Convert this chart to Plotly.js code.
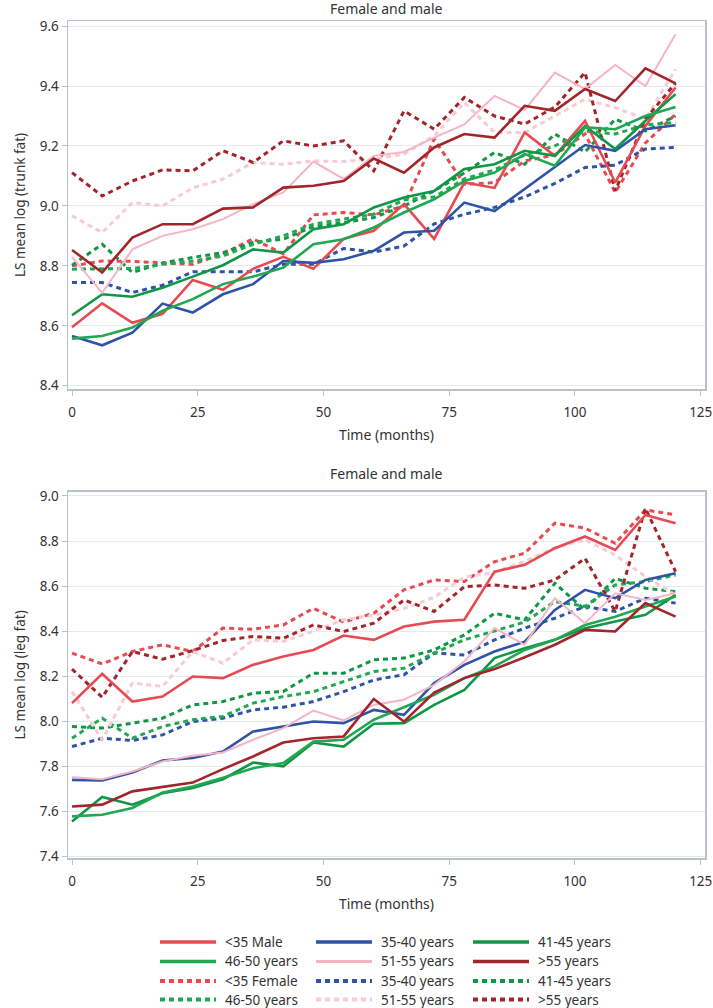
<!DOCTYPE html>
<html>
<head>
<meta charset="utf-8">
<script src="https://cdn.plot.ly/plotly-3.0.1.min.js"></script>
<style>
html,body{margin:0;padding:0;background:#ffffff;}
#chart{width:713px;height:1008px;}
</style>
</head>
<body>
<div id="chart"></div>
<script>
// ---------- DATA ----------
const months = [0,6,12,18,24,30,36,42,48,54,60,66,72,78,84,90,96,102,108,114,120];

const legendLabels = ['<35 Male','35-40 years','41-45 years','46-50 years','51-55 years','>55 years',
                      '<35 Female','35-40 years','41-45 years','46-50 years','51-55 years','>55 years'];

const panelTitles = ['Female and male','Female and male'];
const yTitles = ['LS mean log (trunk fat)','LS mean log (leg fat)'];
const xTitle = 'Time (months)';
const xTicks = [0,25,50,75,100,125];
const yTicksTrunk = [8.4,8.6,8.8,9.0,9.2,9.4,9.6];
const yTicksLeg = [7.4,7.6,7.8,8.0,8.2,8.4,8.6,8.8,9.0];

// Trunk fat – male (solid)
const trunkMale_lt35  = [8.595,8.675,8.61,8.64,8.753,8.72,8.79,8.83,8.79,8.89,8.917,9.006,8.89,9.078,9.06,9.245,9.167,9.284,9.078,9.267,9.395];
const trunkMale_35_40 = [8.566,8.535,8.577,8.674,8.644,8.705,8.739,8.816,8.81,8.822,8.85,8.911,8.917,9.011,8.983,9.056,9.128,9.203,9.184,9.256,9.269];
const trunkMale_41_45 = [8.635,8.705,8.697,8.727,8.764,8.802,8.855,8.844,8.922,8.939,8.995,9.028,9.05,9.123,9.139,9.184,9.167,9.267,9.19,9.284,9.373];
const trunkMale_46_50 = [8.557,8.566,8.594,8.65,8.689,8.739,8.764,8.794,8.872,8.889,8.928,8.978,9.022,9.083,9.111,9.173,9.134,9.262,9.256,9.3,9.33];
const trunkMale_51_55 = [8.83,8.71,8.855,8.9,8.922,8.956,9.006,9.045,9.148,9.09,9.167,9.18,9.228,9.272,9.367,9.32,9.445,9.39,9.47,9.40,9.573];
const trunkMale_gt55  = [8.853,8.778,8.894,8.939,8.939,8.991,8.995,9.061,9.067,9.083,9.158,9.111,9.195,9.24,9.228,9.334,9.317,9.39,9.35,9.459,9.409];
// Trunk fat – female (dashed)
const trunkFem_lt35  = [8.80,8.816,8.815,8.81,8.805,8.84,8.89,8.84,8.97,8.978,8.97,9.0,9.223,9.072,9.078,9.15,9.17,9.24,9.045,9.21,9.306];
const trunkFem_35_40 = [8.744,8.744,8.711,8.735,8.78,8.78,8.78,8.805,8.805,8.858,8.846,8.866,8.94,8.972,8.995,9.03,9.075,9.128,9.136,9.19,9.195];
const trunkFem_41_45 = [8.802,8.872,8.778,8.809,8.828,8.844,8.878,8.889,8.931,8.944,8.961,9.0,9.05,9.11,9.178,9.139,9.24,9.18,9.289,9.25,9.30];
const trunkFem_46_50 = [8.789,8.789,8.791,8.805,8.816,8.833,8.872,8.9,8.939,8.956,8.972,9.02,9.03,9.09,9.12,9.17,9.20,9.25,9.24,9.27,9.278];
const trunkFem_51_55 = [8.967,8.911,9.011,9.0,9.06,9.089,9.145,9.139,9.15,9.148,9.156,9.173,9.234,9.345,9.245,9.245,9.30,9.356,9.328,9.29,9.456];
const trunkFem_gt55  = [9.111,9.033,9.083,9.12,9.117,9.184,9.145,9.217,9.2,9.217,9.117,9.317,9.256,9.362,9.30,9.273,9.33,9.445,9.05,9.29,9.41];

// Leg fat – male (solid)
const legMale_lt35  = [8.08,8.21,8.087,8.109,8.198,8.191,8.25,8.287,8.316,8.38,8.361,8.42,8.442,8.45,8.664,8.694,8.768,8.82,8.76,8.916,8.879];
const legMale_35_40 = [7.739,7.736,7.772,7.825,7.836,7.865,7.954,7.976,7.998,7.991,8.05,8.028,8.169,8.25,8.309,8.353,8.494,8.583,8.546,8.627,8.657];
const legMale_41_45 = [7.554,7.663,7.629,7.68,7.703,7.742,7.816,7.799,7.905,7.887,7.988,7.991,8.072,8.139,8.28,8.324,8.361,8.413,8.442,8.472,8.561];
const legMale_46_50 = [7.577,7.584,7.614,7.683,7.71,7.748,7.791,7.814,7.909,7.917,8.006,8.062,8.117,8.191,8.243,8.316,8.361,8.427,8.464,8.509,8.553];
const legMale_51_55 = [7.751,7.742,7.776,7.821,7.846,7.861,7.917,7.969,8.047,8.003,8.072,8.095,8.161,8.265,8.413,8.339,8.546,8.435,8.568,8.538,8.568];
const legMale_gt55  = [7.621,7.629,7.688,7.707,7.727,7.787,7.843,7.905,7.924,7.932,8.098,7.998,8.127,8.191,8.231,8.284,8.339,8.405,8.398,8.524,8.464];
// Leg fat – female (dashed)
const legFem_lt35  = [8.302,8.254,8.309,8.339,8.309,8.413,8.408,8.427,8.501,8.44,8.479,8.583,8.627,8.62,8.708,8.746,8.879,8.857,8.79,8.938,8.916];
const legFem_35_40 = [7.887,7.924,7.914,7.939,7.998,8.013,8.05,8.062,8.087,8.131,8.183,8.206,8.302,8.294,8.361,8.413,8.457,8.509,8.487,8.546,8.524];
const legFem_41_45 = [7.976,7.969,7.991,8.013,8.072,8.087,8.124,8.131,8.213,8.213,8.272,8.28,8.316,8.383,8.479,8.45,8.612,8.494,8.634,8.59,8.575];
const legFem_46_50 = [7.924,8.013,7.924,7.976,8.006,8.021,8.08,8.109,8.131,8.176,8.22,8.235,8.302,8.361,8.40,8.44,8.531,8.51,8.605,8.62,8.649];
const legFem_51_55 = [8.131,7.917,8.169,8.154,8.309,8.257,8.361,8.353,8.40,8.45,8.47,8.50,8.55,8.64,8.66,8.71,8.77,8.805,8.738,8.642,8.56];
const legFem_gt55  = [8.231,8.106,8.309,8.275,8.313,8.358,8.376,8.368,8.427,8.398,8.435,8.538,8.487,8.597,8.605,8.59,8.627,8.723,8.487,8.945,8.664];

// ---------- STYLE ----------
const colors = ['#e84a52','#2f53a6','#109646','#22a753','#f5b5c5','#a3252c'];
const dashColors = ['#e84a52','#2f53a6','#109646','#22a753','#f8cad5','#a3252c'];
const solidWidths = [2.6,2.6,2.6,2.6,2.0,2.6];
const FONT = 'Noto Sans, Open Sans, sans-serif';
const TXT = '#333333';
const FS = 13.5, FS_T = 14;

const trunkSeries = [trunkMale_lt35,trunkMale_35_40,trunkMale_41_45,trunkMale_46_50,trunkMale_51_55,trunkMale_gt55,
                     trunkFem_lt35,trunkFem_35_40,trunkFem_41_45,trunkFem_46_50,trunkFem_51_55,trunkFem_gt55];
const legSeries = [legMale_lt35,legMale_35_40,legMale_41_45,legMale_46_50,legMale_51_55,legMale_gt55,
                   legFem_lt35,legFem_35_40,legFem_41_45,legFem_46_50,legFem_51_55,legFem_gt55];

function lineStyle(i){
  const g = i % 6, fem = i >= 6;
  return fem ? {color: dashColors[g], width: 3, dash: '5px,4px'}
             : {color: colors[g], width: solidWidths[g], dash: 'solid'};
}

const traces = [];
// draw dashed (female) first, then solid (male)
const order = [6,7,8,9,10,11,0,1,2,3,4,5];
[[trunkSeries,'x','y'],[legSeries,'x2','y2']].forEach(([ser,xa,ya]) => {
  order.forEach(i => {
    traces.push({
      x: months, y: ser[i], type: 'scatter', mode: 'lines',
      name: legendLabels[i], xaxis: xa, yaxis: ya,
      line: lineStyle(i), showlegend: false, hoverinfo: 'x+y+name'
    });
  });
});

// ---------- LAYOUT ----------
const W = 713, H = 1008;
const L = 68, R = 8, T = 21, B = 150;
const plotW = W - L - R, plotH = H - T - B;
const px2x = p => (p - L) / plotW;
const py2y = p => (H - B - p) / plotH;

const gridCol = '#e6e9ee', lineCol = '#b9c2cc';
function xAxis(anchor){
  return {anchor: anchor, range: [-0.8, 125.85], tickvals: xTicks, ticks: 'outside', ticklen: 5,
    tickcolor: lineCol, showline: true, mirror: true, linecolor: lineCol, linewidth: 1.5,
    showgrid: false, zeroline: false, tickfont: {family: FONT, size: FS, color: TXT},
    ticklabelstandoff: 5,
    title: {text: xTitle, font: {family: FONT, size: FS_T, color: TXT}, standoff: 10}};
}
function yAxis(anchor, dom, rng, tv, title){
  return {anchor: anchor, domain: dom, range: rng, tickvals: tv, tickformat: '.1f',
    ticks: 'outside', ticklen: 5, tickcolor: lineCol, showline: true, mirror: true,
    linecolor: lineCol, linewidth: 1.5, showgrid: true, gridcolor: gridCol, gridwidth: 1,
    zeroline: false, tickfont: {family: FONT, size: FS, color: TXT},
    title: {text: title, font: {family: FONT, size: FS, color: TXT}, standoff: 11}};
}

const shapes = [], annotations = [];
// panel titles
annotations.push({text: panelTitles[0], xref: 'paper', yref: 'paper', x: 0.5, y: py2y(8),
  xanchor: 'center', yanchor: 'middle', showarrow: false, font: {family: FONT, size: FS_T, color: TXT}});
annotations.push({text: panelTitles[1], xref: 'paper', yref: 'paper', x: 0.5, y: py2y(473),
  xanchor: 'center', yanchor: 'middle', showarrow: false, font: {family: FONT, size: FS_T, color: TXT}});

// custom legend: 3 columns x 4 rows
const colX = [160, 316, 473], rowY = [942, 961.5, 981, 999.5], sampleLen = 56, textGap = 7;
legendLabels.forEach((lab, i) => {
  const r = Math.floor(i / 3), c = i % 3;
  const st = lineStyle(i);
  shapes.push({type: 'line', xref: 'paper', yref: 'paper',
    x0: px2x(colX[c]), x1: px2x(colX[c] + sampleLen), y0: py2y(rowY[r]), y1: py2y(rowY[r]),
    line: {color: st.color, width: st.width + 1, dash: st.dash}});
  annotations.push({text: lab.replace('<','&lt;').replace('>','&gt;'), xref: 'paper', yref: 'paper',
    x: px2x(colX[c] + sampleLen + textGap), y: py2y(rowY[r]), xanchor: 'left', yanchor: 'middle',
    showarrow: false, font: {family: FONT, size: FS, color: TXT}});
});

const layout = {
  width: W, height: H, margin: {l: L, r: R, t: T, b: B},
  paper_bgcolor: '#ffffff', plot_bgcolor: '#ffffff', showlegend: false,
  font: {family: FONT, color: TXT},
  xaxis: xAxis('y'),
  yaxis: yAxis('x', [py2y(389), 1], [8.389, 9.617], yTicksTrunk, yTitles[0]),
  xaxis2: xAxis('y2'),
  yaxis2: yAxis('x2', [0, py2y(491.7)], [7.392, 9.019], yTicksLeg, yTitles[1]),
  shapes: shapes, annotations: annotations
};

Plotly.newPlot('chart', traces, layout, {staticPlot: true, displayModeBar: false});
</script>
</body>
</html>
